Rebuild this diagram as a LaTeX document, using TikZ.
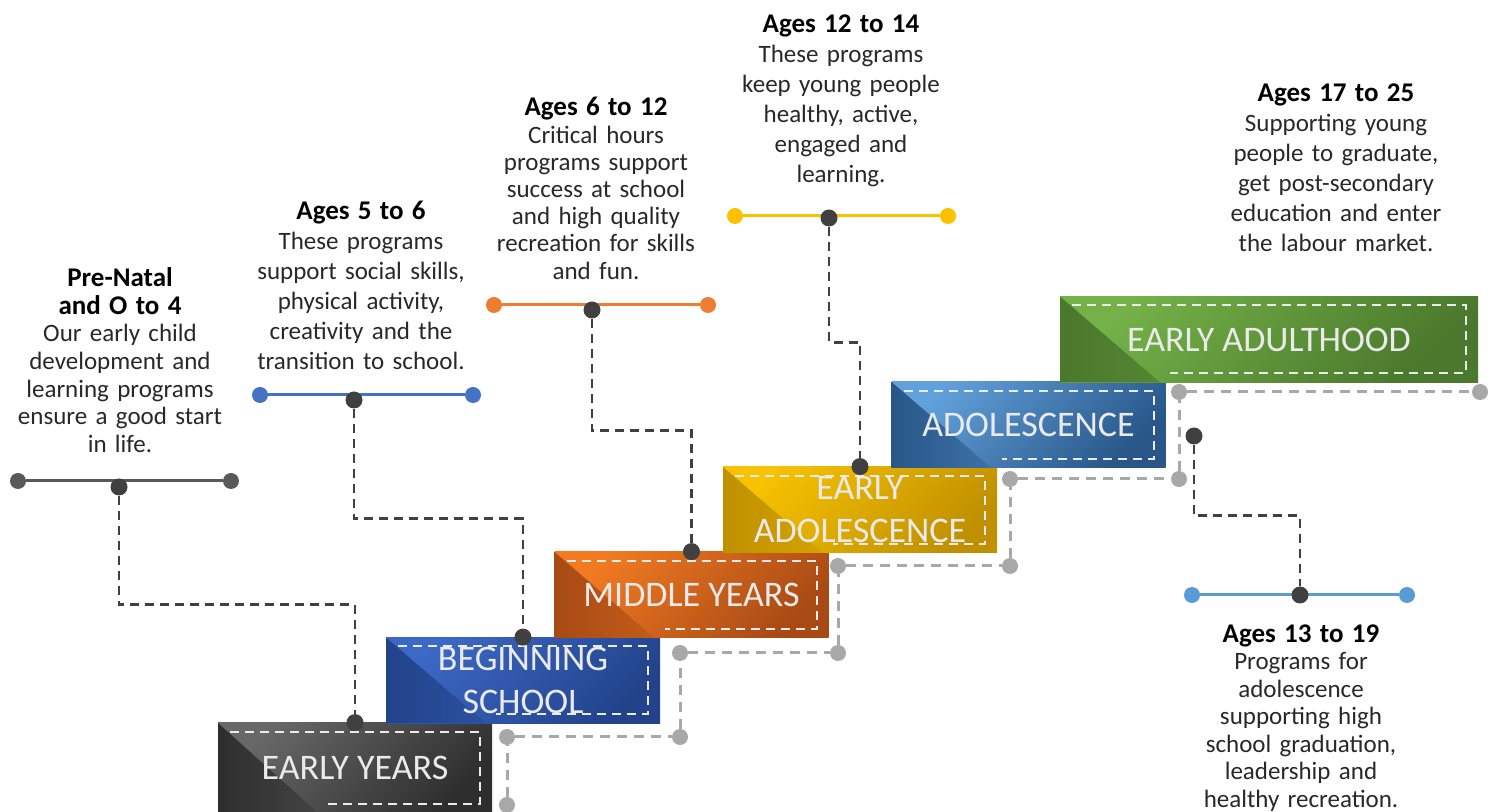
\documentclass[tikz,border=0pt]{standalone}
\usepackage{fontspec}
\setmainfont{Carlito}
\usepackage{tikz}
\usetikzlibrary{calc}
\definecolor{mydark}{RGB}{64,64,64}
\definecolor{mytext}{RGB}{40,40,40}
\definecolor{mylabel}{RGB}{234,234,234}
\definecolor{mystair}{RGB}{168,168,168}
\definecolor{bargray}{RGB}{89,89,89}
\definecolor{barblue}{RGB}{68,114,196}
\definecolor{barorange}{RGB}{237,125,49}
\definecolor{baryellow}{RGB}{255,192,0}
\definecolor{barsky}{RGB}{91,155,213}
\definecolor{grayhi}{RGB}{104,104,104}
\definecolor{graylo}{RGB}{46,46,46}
\definecolor{bluehi}{RGB}{60,104,198}
\definecolor{bluelo}{RGB}{34,67,138}
\definecolor{orangehi}{RGB}{242,123,34}
\definecolor{orangelo}{RGB}{168,74,20}
\definecolor{goldhi}{RGB}{247,194,0}
\definecolor{goldlo}{RGB}{192,144,0}
\definecolor{skyhi}{RGB}{98,162,220}
\definecolor{skylo}{RGB}{40,86,136}
\definecolor{greenhi}{RGB}{116,178,72}
\definecolor{greenlo}{RGB}{74,120,44}
\newcommand{\agehead}[1]{{\fontsize{13.5}{15}\selectfont\bfseries\color{black}#1}}
\tikzset{
  innerdash/.style={draw=white!92!black, line width=1pt, dash pattern=on 4.5pt off 3pt},
  stepbox/.style 2 args={rectangle, inner sep=0pt, minimum width=137pt, minimum height=43pt,
    top color=#1, bottom color=#2, shading angle=45,
    font=\fontsize{18}{21.5}\selectfont, text=mylabel, align=center,
    path picture={
      \shade[left color=#2, right color=#1]
        (path picture bounding box.north west) -- (path picture bounding box.south west)
        -- ([xshift=50pt]path picture bounding box.south west) -- cycle;
      \draw[innerdash]
        ([xshift=6pt,yshift=-4.5pt]path picture bounding box.north west)
        -- ([xshift=-6pt,yshift=-4.5pt]path picture bounding box.north east)
        -- ([xshift=-6pt,yshift=4.5pt]path picture bounding box.south east)
        -- ([xshift=55pt,yshift=4.5pt]path picture bounding box.south west);
    }},
  dotdark/.style={circle, fill=mydark, inner sep=0pt, minimum size=8.5pt},
  dotstair/.style={circle, fill=mystair, inner sep=0pt, minimum size=8pt},
  barend/.style={circle, fill=#1, inner sep=0pt, minimum size=8pt},
  bar/.style={draw=#1, line width=1.5pt},
  conn/.style={draw=mydark, line width=1.3pt, dash pattern=on 4.5pt off 3pt},
  stairline/.style={draw=mystair, line width=1.5pt, dash pattern=on 5pt off 3.5pt},
  desc/.style={text=mytext, align=center, text width=125pt, inner sep=0pt, anchor=north,
    font=\fontsize{12.5}{14}\selectfont}
}
\begin{document}
\begin{tikzpicture}[x=0.5pt, y=-0.5pt]
  \useasboundingbox (0,0) rectangle (1496,812);

  % Steps (bottom left to top right)
  \node[stepbox={grayhi}{graylo}, minimum height=45pt] (ey) at (355,768) {EARLY YEARS};
  \node[stepbox={bluehi}{bluelo}] (bs) at (523,680.5) {BEGINNING\\SCHOOL};
  \node[stepbox={orangehi}{orangelo}] (my) at (691.5,595) {MIDDLE YEARS};
  \node[stepbox={goldhi}{goldlo}] (ea) at (860,510) {EARLY\\ADOLESCENCE};
  \node[stepbox={skyhi}{skylo}] (ad) at (1028.5,425) {ADOLESCENCE};
  \node[stepbox={greenhi}{greenlo}, minimum width=209pt] (eadult) at (1269,339.5) {EARLY ADULTHOOD};

  % Grey stair line under the steps
  \node[dotstair] (s0) at (507,805) {};
  \node[dotstair] (s1) at (507,737) {};
  \node[dotstair] (s2) at (680,737) {};
  \node[dotstair] (s3) at (680,653) {};
  \node[dotstair] (s4) at (838,653) {};
  \node[dotstair] (s5) at (838,566) {};
  \node[dotstair] (s6) at (1010,566) {};
  \node[dotstair] (s7) at (1010,479) {};
  \node[dotstair] (s8) at (1179,479) {};
  \node[dotstair] (s9) at (1179,392) {};
  \node[dotstair] (s10) at (1480,392) {};
  \draw[stairline] (s0) -- (s1) -- (s2) -- (s3) -- (s4) -- (s5) -- (s6) -- (s7) -- (s8) -- (s9) -- (s10);

  % Age bars
  \node[barend=bargray] (pnL) at (18,481) {};
  \node[barend=bargray] (pnR) at (231,481) {};
  \draw[bar=bargray] (pnL) -- (pnR);
  \node[dotdark] (pnM) at (119,487) {};

  \node[barend=barblue] (bsL) at (260,395) {};
  \node[barend=barblue] (bsR) at (473,395) {};
  \draw[bar=barblue] (bsL) -- (bsR);
  \node[dotdark] (bsM) at (354,400) {};

  \node[barend=barorange] (myL) at (494,305) {};
  \node[barend=barorange] (myR) at (708,305) {};
  \draw[bar=barorange] (myL) -- (myR);
  \node[dotdark] (myM) at (592,310) {};

  \node[barend=baryellow] (eaL) at (735,216) {};
  \node[barend=baryellow] (eaR) at (948,216) {};
  \draw[bar=baryellow] (eaL) -- (eaR);
  \node[dotdark] (eaM) at (829,218) {};

  \node[barend=barsky] (adL) at (1192,595) {};
  \node[barend=barsky] (adR) at (1407,595) {};
  \draw[bar=barsky] (adL) -- (adR);
  \node[dotdark] (adM) at (1300,595) {};

  % Dots on the steps and dashed links
  \node[dotdark] (t1) at (ey.north) {};
  \node[dotdark] (t2) at (bs.north) {};
  \node[dotdark] (t3) at (my.north) {};
  \node[dotdark] (t4) at (ea.north) {};
  \node[dotdark] (t5) at (1194,436) {};
  \draw[conn] (pnM) |- ($(pnM)!0.5!(t1)$) -| (t1);
  \draw[conn] (bsM) |- ($(bsM)!0.5!(t2)$) -| (t2);
  \draw[conn] (myM) |- ($(myM)!0.5!(t3)$) -| (t3);
  \draw[conn] (eaM) |- ($(eaM)!0.5!(t4)$) -| (t4);
  \draw[conn] (t5) |- ($(t5)!0.5!(adM)$) -| (adM);

  % Descriptions
  \node[desc, font=\fontsize{12.5}{13.85}\selectfont] (txt04) at (120,267) {\agehead{Pre-Natal}\\\agehead{and O to 4}\\Our early child\\development and\\learning programs\\ensure a good start\\in life.};
  \node[desc, font=\fontsize{12.5}{15}\selectfont] (txt56) at (361,201) {\agehead{Ages 5 to 6}\\These programs\\support social skills,\\physical activity,\\creativity and the\\transition to school.};
  \node[desc, font=\fontsize{12.5}{13.6}\selectfont] (txt612) at (596,97) {\agehead{Ages 6 to 12}\\Critical hours\\programs support\\success at school\\and high quality\\recreation for skills\\and fun.};
  \node[desc, font=\fontsize{12.5}{15}\selectfont] (txt1214) at (841,14) {\agehead{Ages 12 to 14}\\These programs\\keep young people\\healthy, active,\\engaged and\\learning.};
  \node[desc, font=\fontsize{12.5}{15}\selectfont] (txt1725) at (1336,83) {\agehead{Ages 17 to 25}\\Supporting young\\people to graduate,\\get post-secondary\\education and enter\\the labour market.};
  \node[desc, font=\fontsize{12.5}{13.75}\selectfont] (txt1319) at (1301,624) {\agehead{Ages 13 to 19}\\Programs for\\adolescence\\supporting high\\school graduation,\\leadership and\\healthy recreation.};
\end{tikzpicture}
\end{document}
